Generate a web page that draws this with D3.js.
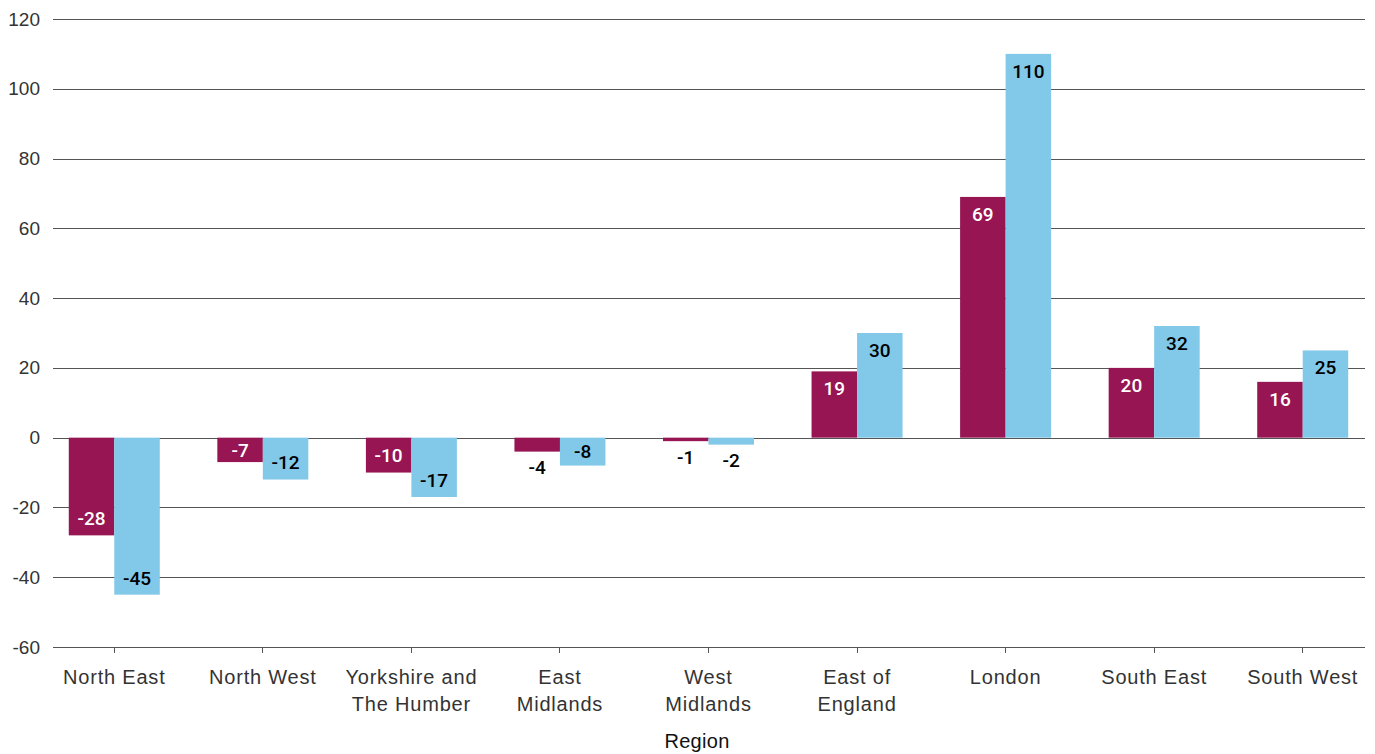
<!DOCTYPE html>
<html><head><meta charset="utf-8">
<script src="https://cdn.jsdelivr.net/npm/d3@7"></script>
<style>
body{margin:0;background:#fff;}
text{font-family:"Liberation Sans",Arial,sans-serif;}
</style></head>
<body>
<svg id="c" width="1375" height="754"></svg>
<script>
const categories = ["North East","North West","Yorkshire and\nThe Humber","East\nMidlands","West\nMidlands","East of\nEngland","London","South East","South West"];
const series = ["A","B"];
const valuesA = [-28,-7,-10,-4,-1,19,69,20,16];
const valuesB = [-45,-12,-17,-8,-2,30,110,32,25];
const yTicks = [-60,-40,-20,0,20,40,60,80,100,120];
const colors = ["#961552","#82C8E8"];
const labelColors = ["#fff","#000"];
const xTitle = "Region";

const svg = d3.select("#c");
const gridLeft = 53, gridRight = 1365;
const y = d3.scaleLinear().domain([-60,120]).range([647,19]);
const x0 = d3.scaleBand().domain(categories).range([40,1377]);
const bw = x0.bandwidth();
const x1 = d3.scaleBand().domain(series).range([(bw-91)/2,(bw+91)/2]);

// gridlines
const yAxis = d3.axisLeft(y).tickValues(yTicks).tickSize(-(gridRight-gridLeft)).tickPadding(13).tickFormat(d=>String(d));
const gy = svg.append("g").attr("transform",`translate(${gridLeft},0)`).call(yAxis);
gy.select(".domain").remove();
gy.selectAll(".tick line").attr("stroke","#555").attr("stroke-width",1).attr("shape-rendering","crispEdges");
gy.selectAll(".tick text").attr("font-size",19).attr("fill","#333").attr("font-family","Liberation Sans, Arial, sans-serif");

// bars
const data = categories.map((c,i)=>({c, vals:[valuesA[i],valuesB[i]]}));
const groups = svg.append("g").selectAll("g").data(data).join("g")
  .attr("transform",d=>`translate(${x0(d.c)},0)`);
groups.selectAll("rect").data(d=>d.vals.map((v,j)=>({v,j}))).join("rect")
  .attr("x",d=>x1(series[d.j]))
  .attr("width",x1.bandwidth())
  .attr("y",d=>y(Math.max(0,d.v)))
  .attr("height",d=>Math.abs(y(d.v)-y(0)))
  .attr("fill",d=>colors[d.j]);

groups.selectAll("text.lab").data(d=>d.vals.map((v,j)=>({v,j}))).join("text")
  .attr("class","lab")
  .attr("x",d=>x1(series[d.j])+x1.bandwidth()/2)
  .attr("y",d=>{
    const len = Math.abs(y(d.v)-y(0));
    const sgn = d.v<0?1:-1;
    let c;
    if(len<20) c = y(d.v)+sgn*16;
    else if(len<34) c = (y(d.v)+y(0))/2;
    else c = y(d.v)-sgn*17;
    return c;
  })
  .attr("dy","0.36em")
  .attr("text-anchor","middle")
  .attr("font-size",19)
  .attr("font-weight",500)
  .style("font-family","Roboto, 'Liberation Sans', sans-serif")
  .attr("fill",d=>Math.abs(y(d.v)-y(0))<20?"#000":labelColors[d.j])
  .text(d=>d.v);

// x axis
const gx = svg.append("g").attr("transform",`translate(0,${y(-60)})`);
gx.append("line").attr("x1",gridLeft).attr("x2",gridRight).attr("stroke","#555").attr("shape-rendering","crispEdges");
const ticks = gx.selectAll("g").data(categories).join("g").attr("transform",d=>`translate(${x0(d)+bw/2},0)`);
ticks.append("line").attr("y2",6).attr("stroke","#555").attr("shape-rendering","crispEdges");
ticks.append("text").attr("text-anchor","middle").attr("font-size",20).attr("letter-spacing",0.8).attr("fill","#333")
  .selectAll("tspan").data(d=>d.split("\n")).join("tspan")
  .attr("x",0).attr("y",(d,i)=>37+i*27).text(d=>d);

svg.append("text").attr("x",697).attr("y",748).attr("text-anchor","middle").attr("font-size",20).attr("letter-spacing",0.3).attr("fill","#111").text(xTitle);
</script>
</body></html>
